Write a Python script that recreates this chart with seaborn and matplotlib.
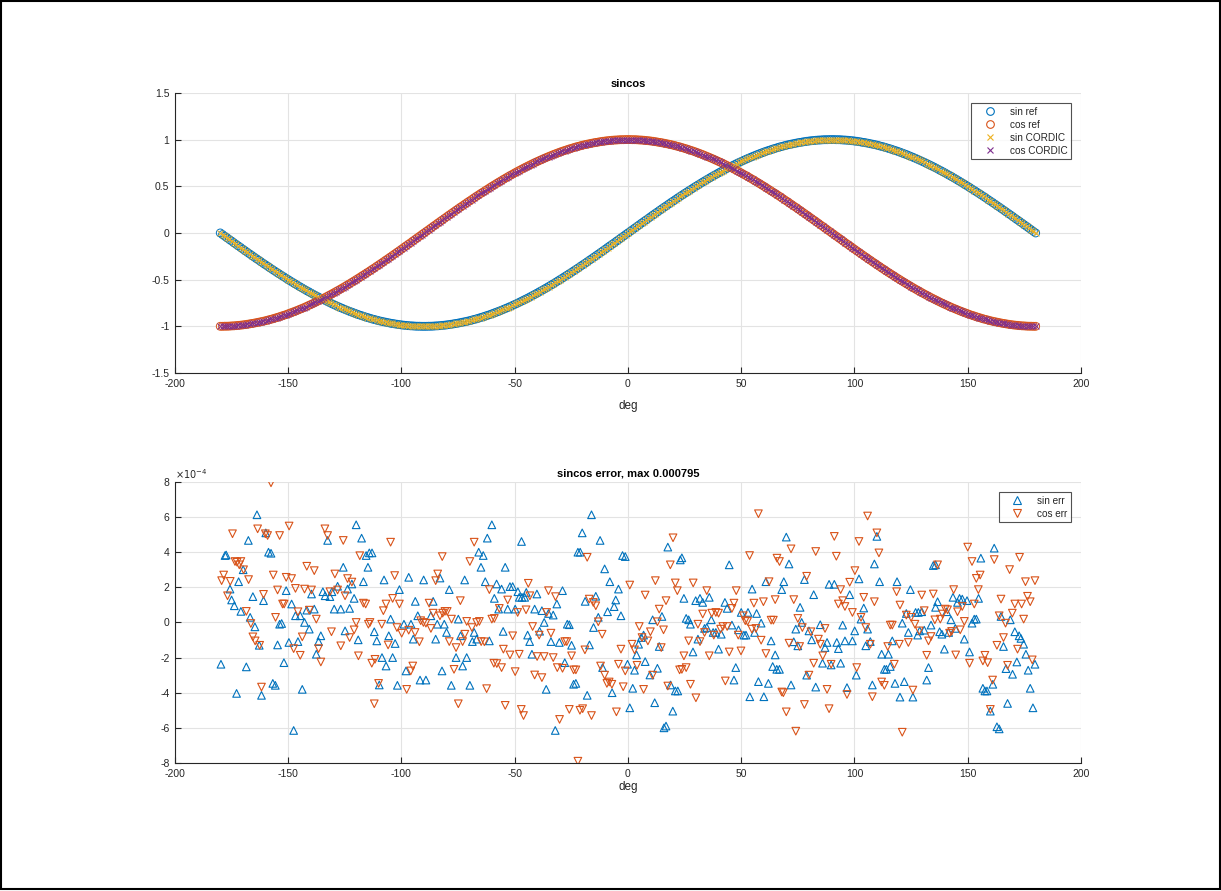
import numpy as np
import matplotlib
matplotlib.use("Agg")
import matplotlib.pyplot as plt
import seaborn as sns
from matplotlib.ticker import FuncFormatter, MultipleLocator
from matplotlib.patches import Rectangle
from matplotlib.lines import Line2D

# ---------------- data ----------------
curve_deg = list(range(-180, 181, 1))

sin_ref = [
    # -180 .. -90
    0.000, -0.017, -0.035, -0.052, -0.070, -0.087, -0.105, -0.122, -0.139, -0.156,
    -0.174, -0.191, -0.208, -0.225, -0.242, -0.259, -0.276, -0.292, -0.309, -0.326,
    -0.342, -0.358, -0.375, -0.391, -0.407, -0.423, -0.438, -0.454, -0.469, -0.485,
    -0.500, -0.515, -0.530, -0.545, -0.559, -0.574, -0.588, -0.602, -0.616, -0.629,
    -0.643, -0.656, -0.669, -0.682, -0.695, -0.707, -0.719, -0.731, -0.743, -0.755,
    -0.766, -0.777, -0.788, -0.799, -0.809, -0.819, -0.829, -0.839, -0.848, -0.857,
    -0.866, -0.875, -0.883, -0.891, -0.899, -0.906, -0.914, -0.921, -0.927, -0.934,
    -0.940, -0.946, -0.951, -0.956, -0.961, -0.966, -0.970, -0.974, -0.978, -0.982,
    -0.985, -0.988, -0.990, -0.993, -0.995, -0.996, -0.998, -0.999, -0.999, -1.000,
    -1.000,
    # -89 .. 0
    -1.000, -0.999, -0.999, -0.998, -0.996, -0.995, -0.993, -0.990, -0.988, -0.985,
    -0.982, -0.978, -0.974, -0.970, -0.966, -0.961, -0.956, -0.951, -0.946, -0.940,
    -0.934, -0.927, -0.921, -0.914, -0.906, -0.899, -0.891, -0.883, -0.875, -0.866,
    -0.857, -0.848, -0.839, -0.829, -0.819, -0.809, -0.799, -0.788, -0.777, -0.766,
    -0.755, -0.743, -0.731, -0.719, -0.707, -0.695, -0.682, -0.669, -0.656, -0.643,
    -0.629, -0.616, -0.602, -0.588, -0.574, -0.559, -0.545, -0.530, -0.515, -0.500,
    -0.485, -0.469, -0.454, -0.438, -0.423, -0.407, -0.391, -0.375, -0.358, -0.342,
    -0.326, -0.309, -0.292, -0.276, -0.259, -0.242, -0.225, -0.208, -0.191, -0.174,
    -0.156, -0.139, -0.122, -0.105, -0.087, -0.070, -0.052, -0.035, -0.017, 0.000,
    # 1 .. 90
    0.017, 0.035, 0.052, 0.070, 0.087, 0.105, 0.122, 0.139, 0.156, 0.174,
    0.191, 0.208, 0.225, 0.242, 0.259, 0.276, 0.292, 0.309, 0.326, 0.342,
    0.358, 0.375, 0.391, 0.407, 0.423, 0.438, 0.454, 0.469, 0.485, 0.500,
    0.515, 0.530, 0.545, 0.559, 0.574, 0.588, 0.602, 0.616, 0.629, 0.643,
    0.656, 0.669, 0.682, 0.695, 0.707, 0.719, 0.731, 0.743, 0.755, 0.766,
    0.777, 0.788, 0.799, 0.809, 0.819, 0.829, 0.839, 0.848, 0.857, 0.866,
    0.875, 0.883, 0.891, 0.899, 0.906, 0.914, 0.921, 0.927, 0.934, 0.940,
    0.946, 0.951, 0.956, 0.961, 0.966, 0.970, 0.974, 0.978, 0.982, 0.985,
    0.988, 0.990, 0.993, 0.995, 0.996, 0.998, 0.999, 0.999, 1.000, 1.000,
    # 91 .. 180
    1.000, 0.999, 0.999, 0.998, 0.996, 0.995, 0.993, 0.990, 0.988, 0.985,
    0.982, 0.978, 0.974, 0.970, 0.966, 0.961, 0.956, 0.951, 0.946, 0.940,
    0.934, 0.927, 0.921, 0.914, 0.906, 0.899, 0.891, 0.883, 0.875, 0.866,
    0.857, 0.848, 0.839, 0.829, 0.819, 0.809, 0.799, 0.788, 0.777, 0.766,
    0.755, 0.743, 0.731, 0.719, 0.707, 0.695, 0.682, 0.669, 0.656, 0.643,
    0.629, 0.616, 0.602, 0.588, 0.574, 0.559, 0.545, 0.530, 0.515, 0.500,
    0.485, 0.469, 0.454, 0.438, 0.423, 0.407, 0.391, 0.375, 0.358, 0.342,
    0.326, 0.309, 0.292, 0.276, 0.259, 0.242, 0.225, 0.208, 0.191, 0.174,
    0.156, 0.139, 0.122, 0.105, 0.087, 0.070, 0.052, 0.035, 0.017, 0.000,
]

cos_ref = [
    # -180 .. -90
    -1.000,
    -1.000, -0.999, -0.999, -0.998, -0.996, -0.995, -0.993, -0.990, -0.988, -0.985,
    -0.982, -0.978, -0.974, -0.970, -0.966, -0.961, -0.956, -0.951, -0.946, -0.940,
    -0.934, -0.927, -0.921, -0.914, -0.906, -0.899, -0.891, -0.883, -0.875, -0.866,
    -0.857, -0.848, -0.839, -0.829, -0.819, -0.809, -0.799, -0.788, -0.777, -0.766,
    -0.755, -0.743, -0.731, -0.719, -0.707, -0.695, -0.682, -0.669, -0.656, -0.643,
    -0.629, -0.616, -0.602, -0.588, -0.574, -0.559, -0.545, -0.530, -0.515, -0.500,
    -0.485, -0.469, -0.454, -0.438, -0.423, -0.407, -0.391, -0.375, -0.358, -0.342,
    -0.326, -0.309, -0.292, -0.276, -0.259, -0.242, -0.225, -0.208, -0.191, -0.174,
    -0.156, -0.139, -0.122, -0.105, -0.087, -0.070, -0.052, -0.035, -0.017, 0.000,
    # -89 .. 0
    0.017, 0.035, 0.052, 0.070, 0.087, 0.105, 0.122, 0.139, 0.156, 0.174,
    0.191, 0.208, 0.225, 0.242, 0.259, 0.276, 0.292, 0.309, 0.326, 0.342,
    0.358, 0.375, 0.391, 0.407, 0.423, 0.438, 0.454, 0.469, 0.485, 0.500,
    0.515, 0.530, 0.545, 0.559, 0.574, 0.588, 0.602, 0.616, 0.629, 0.643,
    0.656, 0.669, 0.682, 0.695, 0.707, 0.719, 0.731, 0.743, 0.755, 0.766,
    0.777, 0.788, 0.799, 0.809, 0.819, 0.829, 0.839, 0.848, 0.857, 0.866,
    0.875, 0.883, 0.891, 0.899, 0.906, 0.914, 0.921, 0.927, 0.934, 0.940,
    0.946, 0.951, 0.956, 0.961, 0.966, 0.970, 0.974, 0.978, 0.982, 0.985,
    0.988, 0.990, 0.993, 0.995, 0.996, 0.998, 0.999, 0.999, 1.000, 1.000,
    # 1 .. 90
    1.000, 0.999, 0.999, 0.998, 0.996, 0.995, 0.993, 0.990, 0.988, 0.985,
    0.982, 0.978, 0.974, 0.970, 0.966, 0.961, 0.956, 0.951, 0.946, 0.940,
    0.934, 0.927, 0.921, 0.914, 0.906, 0.899, 0.891, 0.883, 0.875, 0.866,
    0.857, 0.848, 0.839, 0.829, 0.819, 0.809, 0.799, 0.788, 0.777, 0.766,
    0.755, 0.743, 0.731, 0.719, 0.707, 0.695, 0.682, 0.669, 0.656, 0.643,
    0.629, 0.616, 0.602, 0.588, 0.574, 0.559, 0.545, 0.530, 0.515, 0.500,
    0.485, 0.469, 0.454, 0.438, 0.423, 0.407, 0.391, 0.375, 0.358, 0.342,
    0.326, 0.309, 0.292, 0.276, 0.259, 0.242, 0.225, 0.208, 0.191, 0.174,
    0.156, 0.139, 0.122, 0.105, 0.087, 0.070, 0.052, 0.035, 0.017, 0.000,
    # 91 .. 180
    -0.017, -0.035, -0.052, -0.070, -0.087, -0.105, -0.122, -0.139, -0.156, -0.174,
    -0.191, -0.208, -0.225, -0.242, -0.259, -0.276, -0.292, -0.309, -0.326, -0.342,
    -0.358, -0.375, -0.391, -0.407, -0.423, -0.438, -0.454, -0.469, -0.485, -0.500,
    -0.515, -0.530, -0.545, -0.559, -0.574, -0.588, -0.602, -0.616, -0.629, -0.643,
    -0.656, -0.669, -0.682, -0.695, -0.707, -0.719, -0.731, -0.743, -0.755, -0.766,
    -0.777, -0.788, -0.799, -0.809, -0.819, -0.829, -0.839, -0.848, -0.857, -0.866,
    -0.875, -0.883, -0.891, -0.899, -0.906, -0.914, -0.921, -0.927, -0.934, -0.940,
    -0.946, -0.951, -0.956, -0.961, -0.966, -0.970, -0.974, -0.978, -0.982, -0.985,
    -0.988, -0.990, -0.993, -0.995, -0.996, -0.998, -0.999, -0.999, -1.000, -1.000,
]

# CORDIC results coincide with the reference at plot resolution
sin_cordic = sin_ref
cos_cordic = cos_ref

# error samples (values in units of 1e-4)
sin_err_deg = [
    -179.7, -177.9, -177.4, -175.7, -175.0, -173.8, -172.8, -171.9, -170.9, -169.9,
    -168.5, -167.6, -166.8, -165.6, -164.7, -163.8, -162.8, -161.8, -160.9, -159.9,
    -158.7, -157.6, -156.8, -155.7, -154.7, -153.8, -152.9, -151.9, -150.9, -149.7,
    -148.5, -147.6, -146.8, -145.7, -144.7, -143.8, -142.8, -141.8, -140.7, -139.7,
    -138.5, -137.6, -136.6, -135.6, -134.7, -133.7, -132.6, -131.6, -130.7, -129.7,
    -128.2, -126.8, -125.7, -124.9, -123.8, -122.9, -121.9, -120.9, -120.0, -119.1,
    -117.6, -116.8, -115.6, -114.8, -114.2, -113.0, -112.0, -110.9, -109.8, -108.6,
    -107.7, -106.8, -105.6, -104.8, -103.9, -102.8, -101.8, -100.9, -98.9, -98.0,
    -96.8, -95.8, -94.8, -93.9, -92.8, -91.8, -90.2, -89.2, -87.0, -86.0,
    -84.9, -84.2, -83.0, -82.1, -81.1, -80.1, -78.9, -78.0, -75.9, -74.9,
    -73.9, -73.0, -72.1, -71.2, -69.8, -68.7, -67.9, -66.8, -65.9, -64.9,
    -63.9, -63.0, -62.1, -61.2, -60.1,
    -59.0, -58.0, -57.1, -55.8, -55.1, -54.2, -53.1, -52.1, -50.9, -49.8,
    -48.6, -48.0, -47.0, -46.8, -45.6, -44.9, -44.3, -43.4, -42.4, -41.2,
    -40.2, -39.0, -38.0, -37.0, -36.1, -35.1, -34.0, -33.0, -32.1, -31.4,
    -30.3, -28.9, -27.9, -26.8, -25.9, -24.9, -24.0, -23.0, -22.1, -21.1,
    -20.2, -18.9, -18.0, -17.0, -16.1, -15.2, -14.2, -13.1, -12.3, -11.2,
    -10.3, -9.0, -8.0, -7.0, -6.1, -5.4, -4.2, -3.1, -2.4, -1.2,
    -0.2, 0.8,
    2.1, 2.9, 3.8, 4.7, 5.9, 6.9, 7.6, 9.7, 10.9, 11.8,
    13.0, 13.8, 15.0, 15.9, 16.8, 17.6, 18.8, 19.8, 20.9, 22.0,
    23.1, 23.8, 24.7, 25.7, 26.8, 27.6, 28.7, 29.9, 30.9, 31.8,
    33.0, 33.8, 34.8, 35.9, 36.8, 37.6, 38.8, 40.0, 41.2, 42.8,
    43.8, 44.7, 45.9, 46.8, 47.6, 48.8, 50.0, 51.2, 52.1, 53.0,
    53.8, 54.8, 55.9, 56.8, 57.6, 58.8, 60.0, 60.9,
    62.0, 63.2, 63.9, 65.0, 65.7, 66.9, 67.9, 68.8, 69.9, 71.1,
    72.0, 73.2, 74.1, 75.0, 76.0, 76.7, 77.9, 78.9, 79.9, 81.1,
    82.0, 82.9, 84.9, 85.9, 87.0, 87.9, 88.8, 89.7, 91.1, 92.2,
    92.9, 93.9, 94.8, 95.8, 96.7, 97.9, 99.1, 100.1, 100.8, 102.0,
    102.9, 104.1, 105.0, 105.8, 107.0, 107.9, 108.8, 109.9, 111.1, 112.0,
    113.2, 114.1, 115.0, 115.8, 116.7, 117.9, 118.8, 120.1, 121.1,
    122.0, 122.9, 123.8, 124.7, 125.8, 127.0, 127.9, 128.2, 128.8, 129.7,
    130.8, 131.9, 132.7, 133.8, 134.8, 135.8, 135.8, 136.7, 137.6, 138.6,
    139.7, 140.7, 141.6, 142.6, 143.5, 144.5, 145.5, 146.4, 147.6, 148.5,
    149.7, 150.8, 151.9, 152.9, 153.8, 154.8, 155.8, 156.7, 157.6, 158.5,
    160.0, 161.1, 161.7, 162.9, 163.9, 164.7, 165.8, 166.9, 167.6, 168.8,
    169.8, 170.8, 171.7, 172.7, 173.5, 174.7, 175.7, 176.7, 177.6, 178.8,
    179.7,
]
sin_err_e4 = [
    -2.38, 3.81, 3.84, 1.90, 1.28, 0.95, -4.04, 2.32, 0.63, 3.00,
    -2.53, 4.67, 0.29, 1.47, -0.25, 6.13, -1.30, -4.15, 1.24, 5.10,
    4.00, 3.94, -3.47, -3.58, -1.28, -0.10, -0.06, -2.29, 1.81, -1.14,
    1.05, -6.15, 0.38, -1.09, 0.38, -3.81, 0.00, 0.70, -0.38, 1.62,
    0.76, -1.81, -1.09, -0.76, 1.75, 1.52, 4.67, 1.47, 1.75, 0.76,
    2.06, 0.76, 3.14, -0.48, 1.90, 0.80, 2.19, 1.37, 5.56, -0.99,
    4.80, 2.32, 3.81, 3.14, 3.96, 3.96, -0.53, -1.05, -3.56, -2.00,
    2.42, -2.48, -0.76, 0.19, -2.00, -1.20, -3.58, 1.87, -0.10, -2.76,
    2.57, -0.10, -0.95, 1.20, 0.38, -3.28, 2.42, -3.28, 0.38, 1.20,
    -0.95, -0.10, 2.53, -2.76, -0.10, -0.57, 1.87, -3.58, -2.00, 0.19,
    -0.76, -2.48, 2.42, -2.00, -3.58, -1.09, -0.57, -0.95, 4.00, 3.14,
    3.81, 2.32, 4.80, -1.05, 5.56,
    1.37, 2.19, 0.76, 1.90, -0.51, 3.14, 0.76, 2.04, 2.04, 0.76,
    1.75, 1.43, 4.61, 1.43, 1.43, 1.71, -0.72, -1.09, -1.81, 0.76,
    1.62, -0.50, 0.67, 0.00, -3.81, 0.51, -1.09, 0.42, -6.15, 1.05,
    -1.14, 1.81, -2.29, -0.10, -0.13, -1.30, -3.52, -3.47, 4.00, 4.00,
    5.10, 1.20, -4.15, -1.28, 6.13, -0.29, 1.49, 0.29, 4.67, -2.57,
    3.05, 0.61, 2.32, -4.00, 0.90, 1.28, 1.90, 0.38, 3.81, 3.75,
    -2.38, -4.86,
    -3.75, -2.72, -1.85, -1.24, -0.86, -0.72, -2.23, -2.99, 0.15, -4.57,
    -2.61, -1.37, 0.34, -6.00, -5.90, 4.29, -3.56, -5.05, -3.90, -3.90,
    3.56, 3.68, 1.37, 0.23, 0.15, -0.10, -1.68, 1.24, -0.95, 1.37,
    1.14, -0.34, -0.29, 1.43, 0.15, -0.57, -0.57, -1.52, -0.67, 1.14,
    0.80, 3.28, -0.15, -3.28, -2.57, -0.42, 0.57, -0.72, -0.72, 0.57,
    -4.23, 1.90, -0.57, 0.51, -3.37, -0.04, -4.23, 2.32,
    -3.47, -1.05, -2.51, -1.85, -2.67, -2.67, 1.87, 2.32, 4.86, 3.33,
    -3.56, -1.10, -0.38, -1.33, 0.86, 0.00, 2.44, -3.00, -0.48, -0.99,
    1.58, -3.68, -0.13, -2.32, -1.43, -1.14, 2.17, -2.42, 2.17, -1.14,
    -1.49, -2.32, -0.15, -1.05, -3.71, 1.58, -1.05, -0.48, -3.00, 2.48,
    0.19, 0.82, -1.33, -0.38, -1.09, -3.56, 3.33, 4.90, 2.32, -1.81,
    -2.67, -2.67, -1.81, -2.51, -1.05, -3.47, 2.32, -4.25, -0.04,
    -3.37, 0.51, -0.57, 1.87, -4.25, 0.57, -0.72, 0.57, -0.48, 0.61,
    -0.44, -3.28, -2.57, -0.15, 3.24, 3.28, 0.86, 1.18, -0.53, -0.67,
    -1.52, 0.61, -0.57, 0.15, 1.43, -0.34, 1.14, 1.37, 1.33, -0.95,
    1.24, -1.68, -0.04, 0.19, 0.19, 1.37, 3.66, -3.75, -3.90, -3.90,
    -5.05, -3.52, 4.23, -5.94, -6.06, 0.34, -1.37, -2.63, -4.61, 0.15,
    -2.95, -0.53, -2.25, -0.76, -0.91, -1.24, -1.81, -2.72, -3.75, -4.86,
    -2.38,
]

cos_err_deg = [
    -179.4, -178.5, -176.8, -175.6, -174.6, -173.5, -172.6, -171.6, -170.9, -169.7,
    -168.5, -167.5, -166.5, -165.6, -164.6, -163.5, -162.6, -161.8, -160.9, -160.1,
    -159.1, -157.6, -156.6, -155.6, -154.7, -153.8, -152.5, -151.8, -150.9, -149.6,
    -148.5, -147.6, -146.8, -145.7, -144.7, -143.8, -142.8, -141.8, -140.7, -139.7,
    -138.5, -137.6, -136.6, -135.6, -133.8, -132.6, -131.6, -130.9, -129.4, -128.2,
    -126.8, -125.7, -124.9, -123.8, -122.9, -121.9, -120.9, -120.0, -119.0, -118.4,
    -116.8, -115.8, -114.6, -113.9, -113.1, -112.0, -111.7, -110.1, -108.7, -108.0,
    -106.8, -105.9, -104.8, -103.9, -103.0, -102.0, -100.9, -99.9, -97.7, -96.8,
    -95.9, -95.0, -94.0, -92.1, -91.5, -90.3, -89.2, -87.8, -87.0, -86.0,
    -84.9, -84.0, -83.0, -82.0, -81.8, -80.8, -79.8, -78.9, -77.9, -76.8,
    -75.9, -74.9, -74.0, -73.0, -72.0, -71.2, -69.8, -68.9, -67.9, -66.8,
    -65.6, -64.8, -63.4, -62.4, -61.2, -60.1, -59.2,
    -59.0, -57.9, -56.8, -55.8, -55.0, -54.2, -53.1, -52.1, -50.9, -49.8,
    -48.7, -48.0, -47.1, -46.1, -45.0, -44.0, -43.3, -42.1, -41.2, -40.1,
    -39.2, -38.0, -37.0, -35.9, -35.1, -34.0, -33.0, -32.0, -31.2, -30.2,
    -28.9, -27.9, -27.0, -25.9, -24.9, -24.0, -23.0, -22.1, -21.2, -20.0,
    -19.0, -18.0, -17.1, -16.1, -15.3, -14.2, -13.1, -12.1, -11.4, -10.3,
    -9.3, -8.3, -7.1, -5.1, -4.2, -3.1, -2.1, -1.2, 0.8,
    1.8, 2.9, 4.0, 5.0, 6.2, 6.9, 7.6, 8.8, 9.9, 10.9,
    12.1, 13.0, 13.8, 14.7, 15.7, 16.8, 17.6, 18.7, 19.9, 20.9,
    21.8, 22.8, 23.8, 24.7, 25.7, 26.8, 27.6, 28.8, 30.0, 30.9,
    31.8, 33.0, 33.8, 34.8, 35.9, 37.0, 37.9, 38.8, 40.0, 40.9,
    41.9, 43.0, 43.8, 44.7, 45.9, 46.8, 47.8, 48.7, 49.9, 50.9,
    51.8, 52.8, 53.7, 54.7, 55.6, 56.5, 57.6, 58.8, 59.8, 60.9,
    62.3, 63.2, 64.2, 65.0, 65.8, 66.9, 67.9, 68.6, 69.9, 71.1,
    72.0, 73.2, 74.1, 75.0, 75.8, 77.0, 77.9, 78.9, 79.9, 80.8,
    82.0, 82.9, 84.1, 84.9, 86.0, 87.0, 87.9, 88.8, 89.7, 91.1,
    92.0, 92.9, 93.9, 94.8, 95.8, 96.7, 97.9, 99.1, 100.2, 101.0,
    102.0, 102.9, 104.1, 105.0, 105.8, 107.0, 107.9, 108.8, 109.9, 110.8,
    112.0, 113.2, 114.7, 115.8, 116.7, 117.6, 118.6, 120.1, 121.1,
    119.8, 122.9, 123.8, 125.0, 125.8, 126.7, 128.6, 129.7, 130.8, 131.9,
    132.7, 133.8, 134.8, 135.5, 136.7, 137.9, 138.9, 140.1, 141.1, 142.0,
    142.9, 143.8, 144.7, 145.5, 146.7, 147.6, 148.5, 150.0, 150.8, 151.9,
    152.9, 153.8, 154.7, 155.5, 156.7, 157.6, 158.8, 160.0, 161.0, 161.7,
    162.9, 163.9, 164.7, 165.8, 166.7, 167.6, 168.5, 169.7, 170.8, 172.0,
    172.9, 173.8, 174.7, 175.5, 176.4, 177.6, 178.5, 179.7,
]
cos_err_e4 = [
    2.38, 2.70, 1.52, 2.34, 5.05, 3.47, 3.43, 3.28, 3.47, 3.00,
    0.63, 2.44, -0.06, -0.82, -1.05, 5.33, -1.30, -3.68, 1.60, 5.05,
    4.95, 7.95, 2.70, 0.29, 1.85, 4.95, 1.05, 1.05, 2.57, 5.49,
    2.50, -1.49, 1.94, 0.61, -1.87, -0.82, 1.90, 3.20, 0.70, 1.85,
    2.95, 0.19, -1.49, -2.25, 5.33, 4.95, 1.75, -0.53, 2.76, 1.85,
    -1.33, 4.67, 1.52, 2.50, -0.86, 2.30, -0.42, 0.00, -1.90, 3.80,
    1.10, 1.05, -0.10, 0.00, -2.32, -4.63, -2.10, -3.47, -0.10, 0.67,
    1.05, -1.28, 4.57, 1.37, 2.67, -0.29, 1.05, -0.61, -3.81, -0.44,
    -2.76, -2.48, -0.57, -1.10, 0.10, 0.00, -0.04, 1.10, -0.34, 0.53,
    2.38, 2.76, 0.38, 3.75, 0.53, 0.63, 0.63, -1.09, 0.19, -2.67,
    -1.43, -4.63, 1.24, -1.09, -0.67, 0.06, 3.47, -0.29, 4.57, 0.00,
    0.06, -1.09, -1.10, -3.77, 1.87, 0.19, -2.32,
    0.23, -2.34, 0.80, -2.57, -1.52, -4.72, 1.28, -1.85, -0.76, -2.80,
    0.57, -1.81, -4.95, -5.30, 0.72, 2.23, 1.52, -0.23, -2.99, -1.94,
    -0.72, -3.14, -1.94, 0.57, 1.81, -0.61, -2.00, 1.47, -2.57, -5.52,
    -2.61, -1.09, -1.09, -4.95, -1.90, -2.70, -2.70, -7.90, -5.00, -4.91,
    -1.56, 3.71, 1.33, -5.30, 1.14, 0.95, 0.04, -2.48, -0.67, -3.00,
    -3.47, -3.39, -3.52, -5.09, -2.38, -1.52, -3.66, -2.76, 2.13,
    -1.24, -1.56, -2.44, -0.23, -0.86, -3.81, 1.56, -1.05, -0.53, -3.00,
    2.38, 0.04, 0.76, -1.43, -0.42, 1.24, -3.62, 3.28, 4.82, 2.25,
    1.81, -2.70, -2.67, -1.90, -2.57, -1.05, -3.52, 2.25, -4.29, -0.10,
    -1.09, 0.48, -0.57, 1.81, -1.90, 0.53, -0.72, 0.57, 0.53, -0.38,
    -0.23, -3.33, -0.23, -1.68, 0.80, 1.10, 1.81, -0.72, -1.62, 0.38,
    0.10, 0.06, 3.81, -0.38, 1.10, -0.34, 6.19, -1.01, 1.18, -1.77,
    2.32, 0.13, 0.13, 1.30, 3.66, 3.47, -3.96, -4.00, -5.09, -1.18,
    4.19, 1.30, -6.19, 0.23, -1.37, -0.29, -4.67, 2.63, -3.00, -0.53,
    -2.32, 4.04, -0.95, -1.24, -1.90, -0.34, -3.81, -4.91, -2.38, 4.90,
    3.77, 1.05, 1.87, 1.24, 0.91, -4.10, 2.29, 0.57, 2.95, -2.57,
    4.61, 0.29, 1.43, -0.29, 6.06, -1.24, -4.23, 1.18, 5.10, 3.96,
    -3.39, -3.58, -1.37, -0.15, -0.15, -2.38, 1.75, 0.99, -6.25,
    -1.24, 0.42, -1.14, 0.29, -3.85, -0.10, -0.48, 1.56, 0.67, -1.87,
    -1.05, -0.80, 1.62, 0.15, 3.28, 0.19, 0.48, 0.76, 0.72, -0.61,
    -0.51, 1.87, -1.85, 0.61, -0.42, 0.91, 0.06, 4.29, -2.32, 3.47,
    1.05, 2.51, 1.87, 2.70, -2.19, -1.87, -2.29, -4.95, -3.28, 3.58,
    -1.30, 0.38, 1.33, -0.86, -0.04, -2.44, 3.01, 0.53, 1.05, -1.52,
    3.71, 1.05, 0.19, 2.32, 1.49, 1.18, -2.13, 2.38,
]

x_ticks = [-200, -150, -100, -50, 0, 50, 100, 150, 200]
top_title = "sincos"
bottom_title = "sincos error, max 0.000795"
x_label = "deg"
top_labels = ["sin ref", "cos ref", "sin CORDIC", "cos CORDIC"]
bottom_labels = ["sin err", "cos err"]

# ---------------- style ----------------
sns.set_theme(style="white")
plt.rcParams['font.family'] = ['Liberation Sans', 'DejaVu Sans']
plt.rcParams['axes.unicode_minus'] = False

C_BLUE = "#0072BD"
C_ORANGE = "#D95319"
C_YELLOW = "#EDB120"
C_PURPLE = "#7E2F8E"
AX_COLOR = "#262626"
GRID_COLOR = "#e3e3e3"

fig = plt.figure(figsize=(12.21, 8.91), dpi=100)
fig.patch.set_facecolor("white")
ax1 = fig.add_axes([0.1433, 0.5814, 0.742, 0.3143])
ax2 = fig.add_axes([0.1433, 0.1437, 0.742, 0.3154])


def style_axes(ax, labelpad):
    ax.set_facecolor("white")
    for side in ("top", "right"):
        ax.spines[side].set_visible(False)
    for side in ("left", "bottom"):
        ax.spines[side].set_color(AX_COLOR)
        ax.spines[side].set_linewidth(0.8)
    ax.grid(True, color=GRID_COLOR, linewidth=0.8)
    ax.set_axisbelow(True)
    ax.tick_params(axis="both", which="both", direction="in", length=4,
                   width=0.8, color=AX_COLOR, labelcolor=AX_COLOR,
                   labelsize=7.5, left=True, bottom=True, top=False, right=False,
                   pad=4)
    ax.set_xlim(-200, 200)
    ax.set_xticks(x_ticks)
    ax.xaxis.set_major_formatter(FuncFormatter(lambda v, p: "%g" % v))
    ax.set_xlabel(x_label, fontsize=8.5, color=AX_COLOR, labelpad=labelpad)


def make_legend(ax, handles, labels):
    leg = ax.legend(handles, labels, loc="upper right",
                    bbox_to_anchor=(0.989, 0.964), borderaxespad=0,
                    fontsize=7.2, frameon=True, fancybox=False,
                    edgecolor=AX_COLOR, handlelength=3.0, handletextpad=0.5,
                    borderpad=0.35, labelspacing=0.3)
    leg.get_frame().set_linewidth(0.8)
    for t in leg.get_texts():
        t.set_color(AX_COLOR)
    return leg


# ---- top: sin / cos curves ----
sns.scatterplot(x=curve_deg, y=sin_ref, ax=ax1, marker="o", s=32,
                facecolors="none", edgecolor=C_BLUE, linewidth=0.7,
                legend=False, zorder=3)
sns.scatterplot(x=curve_deg, y=cos_ref, ax=ax1, marker="o", s=32,
                facecolors="none", edgecolor=C_ORANGE, linewidth=0.7,
                legend=False, zorder=3)
sns.scatterplot(x=curve_deg, y=sin_cordic, ax=ax1, marker="x", s=18,
                color=C_YELLOW, linewidth=0.7, legend=False, zorder=4)
sns.scatterplot(x=curve_deg, y=cos_cordic, ax=ax1, marker="x", s=18,
                color=C_PURPLE, linewidth=0.7, legend=False, zorder=4)
style_axes(ax1, labelpad=8)
ax1.set_ylim(-1.5, 1.5)
ax1.yaxis.set_major_locator(MultipleLocator(0.5))
ax1.yaxis.set_major_formatter(FuncFormatter(lambda v, p: "%g" % round(v, 2)))
ax1.set_title(top_title, fontsize=8, fontweight="bold", color="black", pad=4)
top_handles = [
    Line2D([], [], linestyle="none", marker="o", markersize=5.5,
           markerfacecolor="none", markeredgecolor=C_BLUE, markeredgewidth=0.8),
    Line2D([], [], linestyle="none", marker="o", markersize=5.5,
           markerfacecolor="none", markeredgecolor=C_ORANGE, markeredgewidth=0.8),
    Line2D([], [], linestyle="none", marker="x", markersize=4.5,
           color=C_YELLOW, markeredgewidth=0.8),
    Line2D([], [], linestyle="none", marker="x", markersize=4.5,
           color=C_PURPLE, markeredgewidth=0.8),
]
make_legend(ax1, top_handles, top_labels)

# ---- bottom: errors ----
sin_err_vals = [v * 1e-4 for v in sin_err_e4]
cos_err_vals = [v * 1e-4 for v in cos_err_e4]
sns.scatterplot(x=sin_err_deg, y=sin_err_vals, ax=ax2, marker="^", s=30,
                facecolors="none", edgecolor=C_BLUE, linewidth=0.8,
                legend=False, zorder=3)
sns.scatterplot(x=cos_err_deg, y=cos_err_vals, ax=ax2, marker="v", s=30,
                facecolors="none", edgecolor=C_ORANGE, linewidth=0.8,
                legend=False, zorder=3)
style_axes(ax2, labelpad=2)
ax2.set_ylim(-8e-4, 8e-4)
ax2.yaxis.set_major_locator(MultipleLocator(2e-4))
ax2.yaxis.set_major_formatter(FuncFormatter(lambda v, p: "%g" % round(v * 1e4)))
ax2.text(0.0, 1.004, r"$\times10^{-4}$", transform=ax2.transAxes, ha="left",
         va="bottom", fontsize=7, color=AX_COLOR)
ax2.set_title(bottom_title, fontsize=8, fontweight="bold", color="black", pad=4)
bottom_handles = [
    Line2D([], [], linestyle="none", marker="^", markersize=6,
           markerfacecolor="none", markeredgecolor=C_BLUE, markeredgewidth=0.8),
    Line2D([], [], linestyle="none", marker="v", markersize=6,
           markerfacecolor="none", markeredgecolor=C_ORANGE, markeredgewidth=0.8),
]
make_legend(ax2, bottom_handles, bottom_labels)

# figure frame
fig.patches.append(Rectangle((0.001, 0.002), 0.998, 0.997, transform=fig.transFigure,
                             fill=False, edgecolor="black", linewidth=1.5))

fig.savefig("out.png", dpi=100, facecolor="white")
